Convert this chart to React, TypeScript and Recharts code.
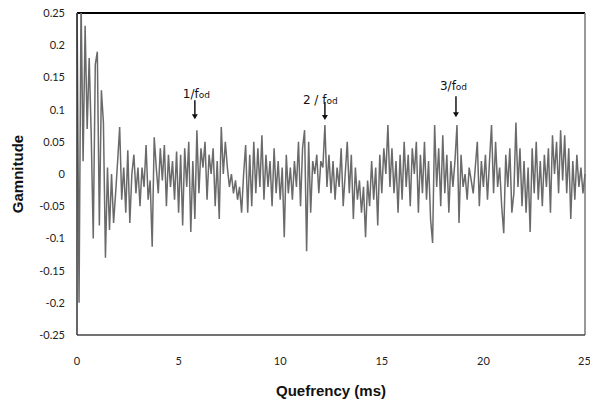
import {
  Label,
  Line,
  LineChart,
  ReferenceDot,
  ReferenceLine,
  XAxis,
  YAxis,
} from "recharts";

// cepstrum samples, one every 0.1 ms
const sampleStepMs = 0.1;
const gamnitude = [
  0.28, -0.2, 0.27, 0.02, 0.23, 0.07, 0.18, 0.06, -0.1, 0.17,
  0.19, -0.08, 0.13, 0.08, -0.13, 0.01, -0.087, 0.0, -0.076, -0.03,
  0.02, 0.073, -0.04, 0.01, -0.06, 0.037, -0.076, 0.0, 0.03, -0.03,
  0.01, -0.05, 0.01, -0.02, 0.045, -0.04, -0.01, -0.113, 0.057, 0.01,
  -0.03, 0.04, -0.01, 0.045, -0.05, 0.03, -0.02, 0.02, -0.04, 0.035,
  -0.06, 0.03, -0.08, 0.04, -0.02, 0.05, -0.09, 0.02, -0.07, 0.068,
  -0.03, 0.04, 0.01, 0.05, -0.04, 0.03, 0.0, 0.04, -0.05, 0.02,
  -0.07, 0.073, 0.0, 0.05, 0.01, -0.02, 0.0, -0.03, -0.01, -0.04,
  -0.02, -0.06, 0.0, 0.045, -0.06, 0.03, -0.05, 0.05, -0.03, 0.04,
  -0.02, 0.06, -0.04, 0.03, -0.02, 0.02, -0.05, 0.04, -0.03, 0.02,
  -0.04, 0.01, -0.098, 0.03, -0.03, 0.01, -0.04, 0.02, -0.02, 0.05,
  -0.05, 0.04, 0.068, -0.12, 0.05, -0.06, 0.02, 0.0, 0.03, -0.03,
  0.02, 0.01, 0.076, -0.02, 0.03, -0.03, 0.02, -0.04, 0.01, -0.02,
  0.04, -0.05, 0.0, 0.05, -0.03, 0.03, -0.07, 0.01, -0.04, -0.01,
  -0.06, -0.02, -0.098, -0.01, -0.05, 0.02, -0.04, 0.01, -0.08, 0.03,
  -0.03, 0.04, 0.0, 0.076, -0.02, 0.04, -0.03, 0.02, -0.06, 0.03,
  -0.04, 0.05, -0.02, 0.03, -0.05, 0.04, 0.0, 0.05, -0.06, 0.03,
  -0.03, 0.05, -0.04, 0.02, -0.07, -0.107, 0.076, -0.02, 0.04, -0.05,
  0.06, -0.03, 0.03, -0.06, 0.02, -0.02, 0.02, 0.076, -0.076, 0.03,
  -0.02, 0.0, -0.04, 0.01, -0.01, -0.03, 0.01, 0.05, -0.05, 0.02,
  -0.02, 0.03, -0.04, 0.02, 0.076, -0.03, 0.05, -0.02, 0.01, -0.05,
  -0.092, 0.03, -0.02, 0.04, -0.06, -0.03, 0.08, -0.02, 0.04, -0.05,
  0.02, -0.06, 0.01, -0.09, 0.04, -0.03, 0.05, -0.04, 0.02, -0.05,
  0.03, -0.02, 0.04, -0.06, 0.06, 0.0, 0.05, -0.03, 0.068, -0.01,
  0.06, -0.03, 0.04, -0.07, 0.02, -0.04, 0.03, -0.02, 0.01, -0.03,
  0.0,
];

const xTicks = [0, 5, 10, 15, 20, 25];
const yTicks = [-0.25, -0.2, -0.15, -0.1, -0.05, 0, 0.05, 0.1, 0.15, 0.2, 0.25];
const yTickLabels = ["-0.25", "-0.2", "-0.15", "-0.1", "-0.05", "0", "0.05", "0.1", "0.15", "0.2", "0.25"];
const frameTicks = [1, 2, 3, 4, 5, 6, 7, 8, 9, 10, 11];

// harmonic markers: label, quefrency, arrow tip value
const markerLabels = ["1/f", "2 / f", "3/f"];
const markerQuefrency = [5.8, 12.2, 18.65];
const markerTip = [0.085, 0.084, 0.088];

const data = gamnitude.map((g, i) => ({ q: +(i * sampleStepMs).toFixed(1), g, frame: 0 }));

const tickFont = { fill: "#222", fontSize: 11, fontFamily: "Lato, 'Open Sans', sans-serif" };

function Marker(props: any) {
  const { cx, cy, idx } = props;
  const offsets = [
    { tx: -12, ty: -21, top: -19 },
    { tx: -22, ty: -16, top: -18 },
    { tx: -16, ty: -27, top: -21 },
  ][idx];
  return (
    <g>
      <text
        x={cx + offsets.tx}
        y={cy + offsets.ty}
        fontSize={12}
        fontFamily="'DejaVu Sans', sans-serif"
        fill="#111"
      >
        {markerLabels[idx]}
        <tspan fontSize={9}>od</tspan>
      </text>
      <line x1={cx} x2={cx} y1={cy + offsets.top} y2={cy - 4} stroke="#222" strokeWidth={1.6} />
      <path d={`M${cx - 3},${cy - 5} L${cx + 3},${cy - 5} L${cx},${cy} Z`} fill="#111" />
    </g>
  );
}

export default function App() {
  return (
    <div style={{ position: "absolute", left: 0, top: 0, background: "#fff" }}>
      <LineChart
        width={590}
        height={404}
        data={data}
        margin={{ top: 13, right: 5, bottom: 0, left: 13 }}
      >
        <XAxis
          dataKey="q"
          type="number"
          domain={[0, 25]}
          ticks={xTicks}
          height={69}
          axisLine={{ stroke: "#444", strokeWidth: 1.5 }}
          tickLine={false}
          tickSize={0}
          tickMargin={22}
          tick={tickFont}
        >
          <Label
            value="Quefrency (ms)"
            position="insideBottom"
            offset={8}
            style={{ fontFamily: "'Liberation Sans', Arial, sans-serif", fontWeight: 700, fontSize: 15, fill: "#111" }}
          />
        </XAxis>
        <YAxis
          yAxisId="g"
          type="number"
          domain={[-0.25, 0.25]}
          ticks={yTicks}
          allowDataOverflow
          width={64}
          axisLine={{ stroke: "#333", strokeWidth: 1.5 }}
          tickLine={false}
          tickSize={0}
          tickMargin={12}
          tick={tickFont}
          tickFormatter={(v: number) => yTickLabels[yTicks.indexOf(v)] ?? String(v)}
        >
          <Label
            value="Gamnitude"
            angle={-90}
            position="insideLeft"
            offset={5}
            style={{ textAnchor: "middle", fontFamily: "'Liberation Sans', Arial, sans-serif", fontWeight: 700, fontSize: 15, fill: "#111" }}
          />
        </YAxis>
        <YAxis
          yAxisId="frame"
          orientation="right"
          type="number"
          domain={[-0.05, 11.55]}
          allowDataOverflow
          reversed
          ticks={frameTicks}
          width={0}
          mirror
          tickSize={5}
          tickFormatter={() => ""}
          axisLine={{ stroke: "#777", strokeWidth: 1.5 }}
          tickLine={{ stroke: "#555" }}
        />
        <Line
          yAxisId="frame"
          dataKey="frame"
          stroke="none"
          dot={false}
          isAnimationActive={false}
        />
        <ReferenceLine yAxisId="g" y={0.25} stroke="#000" strokeWidth={2} />
        <ReferenceLine yAxisId="g" x={25} stroke="#777" strokeWidth={1.5} />
        <Line
          yAxisId="g"
          type="linear"
          dataKey="g"
          stroke="#6a6a6a"
          strokeWidth={1.5}
          dot={false}
          isAnimationActive={false}
        />
        {markerQuefrency.map((q, i) => (
          <ReferenceDot
            key={i}
            yAxisId="g"
            x={q}
            y={markerTip[i]}
            ifOverflow="visible"
            shape={(p: any) => <Marker {...p} idx={i} />}
          />
        ))}
      </LineChart>
    </div>
  );
}
